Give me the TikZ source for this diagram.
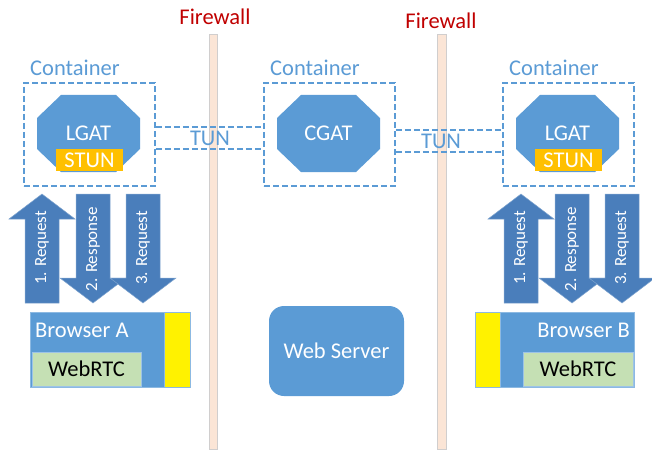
\documentclass[tikz,border=0pt]{standalone}
\usepackage{fontspec}
\setmainfont{Carlito}

\definecolor{accent}{HTML}{5B9BD5}
\definecolor{arrowblue}{HTML}{4A7EBB}
\definecolor{stunorange}{HTML}{FFC000}
\definecolor{rtcgreen}{HTML}{C5E0B4}
\definecolor{wallred}{HTML}{C00000}
\definecolor{wallfill}{HTML}{FBE5D6}
\definecolor{wallline}{HTML}{D0CECE}

\tikzset{
  every node/.style={font=\fontsize{22.5}{25}\selectfont, inner sep=0pt},
  wall/.style={fill=wallfill, draw=wallline, line width=0.6pt},
  walltext/.style={text=wallred},
  container/.style={draw=accent, line width=1.6pt, dash pattern=on 6pt off 3pt,
    minimum width=131, minimum height=103},
  tunnel/.style={draw=accent, line width=1.6pt, dash pattern=on 6pt off 3pt},
  bluetext/.style={text=accent},
  gate/.style={fill=accent},
  stun/.style={fill=stunorange, text=white, minimum width=67, minimum height=22},
  flow/.style={fill=arrowblue, draw=arrowblue!70!white, line width=0.5pt},
  flowtext/.style={text=white, rotate=90, font=\fontsize{17}{19}\selectfont},
  browser/.style={fill=accent, draw=accent!70!white, line width=0.5pt, minimum height=75},
  plugin/.style={fill=yellow, draw=accent!70!white, line width=0.5pt, minimum height=75},
  webrtc/.style={fill=rtcgreen, draw=accent!60!white, line width=0.5pt, minimum height=34},
  server/.style={fill=accent, text=white, rounded corners=15pt, minimum width=135, minimum height=90}
}

\begin{document}
\begin{tikzpicture}[x=1pt, y=-1pt]
    \useasboundingbox (0,0) rectangle (652,449);

    % firewalls
    \draw[wall] (209,34) rectangle (217,449);
    \draw[wall] (437,34) rectangle (446,449);
    \node[walltext] (fwA) at (215,17) {Firewall};
    \node[walltext] (fwB) at (441,21) {Firewall};

    % containers
    \node[container] (contA) at (89.5,134.5) {};
    \node[container] (contC) at (329.5,134.5) {};
    \node[container] (contB) at (568.5,134.5) {};
    \node[bluetext, anchor=west] (labA) at (30,68) {Container};
    \node[bluetext, anchor=west] (labC) at (270,68) {Container};
    \node[bluetext, anchor=west] (labB) at (509,68) {Container};

    % tunnels
    \draw[tunnel] (contA.east |- 0,127) -- (contC.west |- 0,127);
    \draw[tunnel] (contA.east |- 0,149) -- (contC.west |- 0,149);
    \draw[tunnel] (contC.east |- 0,130) -- (contB.west |- 0,130);
    \draw[tunnel] (contC.east |- 0,152) -- (contB.west |- 0,152);
    \node[bluetext] (tunA) at (210,138) {TUN};
    \node[bluetext] (tunB) at (441,141) {TUN};

    % gateways
    \foreach \x/\name/\lbl in {37/lgatA/LGAT, 277/cgat/CGAT, 516/lgatB/LGAT}{
        \fill[gate] (\x+24,95) -- (\x+79,95) -- (\x+103,118) -- (\x+103,149) --
                    (\x+79,172) -- (\x+24,172) -- (\x,149) -- (\x,118) -- cycle;
        \node[text=white] (\name) at (\x+51.5,133) {\lbl};
    }
    \node[stun] (stunA) at (89.5,160) {STUN};
    \node[stun] (stunB) at (568.5,160) {STUN};

    % request / response arrows
    \foreach \o/\s in {0/A, 479/B}{
        \draw[flow] (\o+25,303) -- (\o+25,219) -- (\o+9,219) -- (\o+42,194) --
                    (\o+75,219) -- (\o+59,219) -- (\o+59,303) -- cycle;
        \draw[flow] (\o+76,194) -- (\o+110,194) -- (\o+110,278) -- (\o+126,278) --
                    (\o+93,303) -- (\o+60,278) -- (\o+76,278) -- cycle;
        \draw[flow] (\o+126,194) -- (\o+160,194) -- (\o+160,278) -- (\o+176,278) --
                    (\o+143,303) -- (\o+110,278) -- (\o+126,278) -- cycle;
        \node[flowtext] (reqone\s) at (\o+42,248) {1. Request};
        \node[flowtext] (resp\s) at (\o+93,249) {2. Response};
        \node[flowtext] (reqthree\s) at (\o+143,248) {3. Request};
    }

    % browsers
    \node[browser, minimum width=134] (browA) at (97,349.5) {};
    \node[plugin, minimum width=26] (plugA) at (177,349.5) {};
    \node[text=white, anchor=west] (nameA) at (35,330) {Browser A};
    \node[webrtc, minimum width=109] (rtcA) at (86.5,369) {WebRTC};

    \node[plugin, minimum width=25] (plugB) at (487.5,349.5) {};
    \node[browser, minimum width=134] (browB) at (567,349.5) {};
    \node[text=white, anchor=east] (nameB) at (630,330) {Browser B};
    \node[webrtc, minimum width=110] (rtcB) at (578,369) {WebRTC};

    % server
    \node[server] (web) at (336.5,351) {Web Server};
\end{tikzpicture}
\end{document}
